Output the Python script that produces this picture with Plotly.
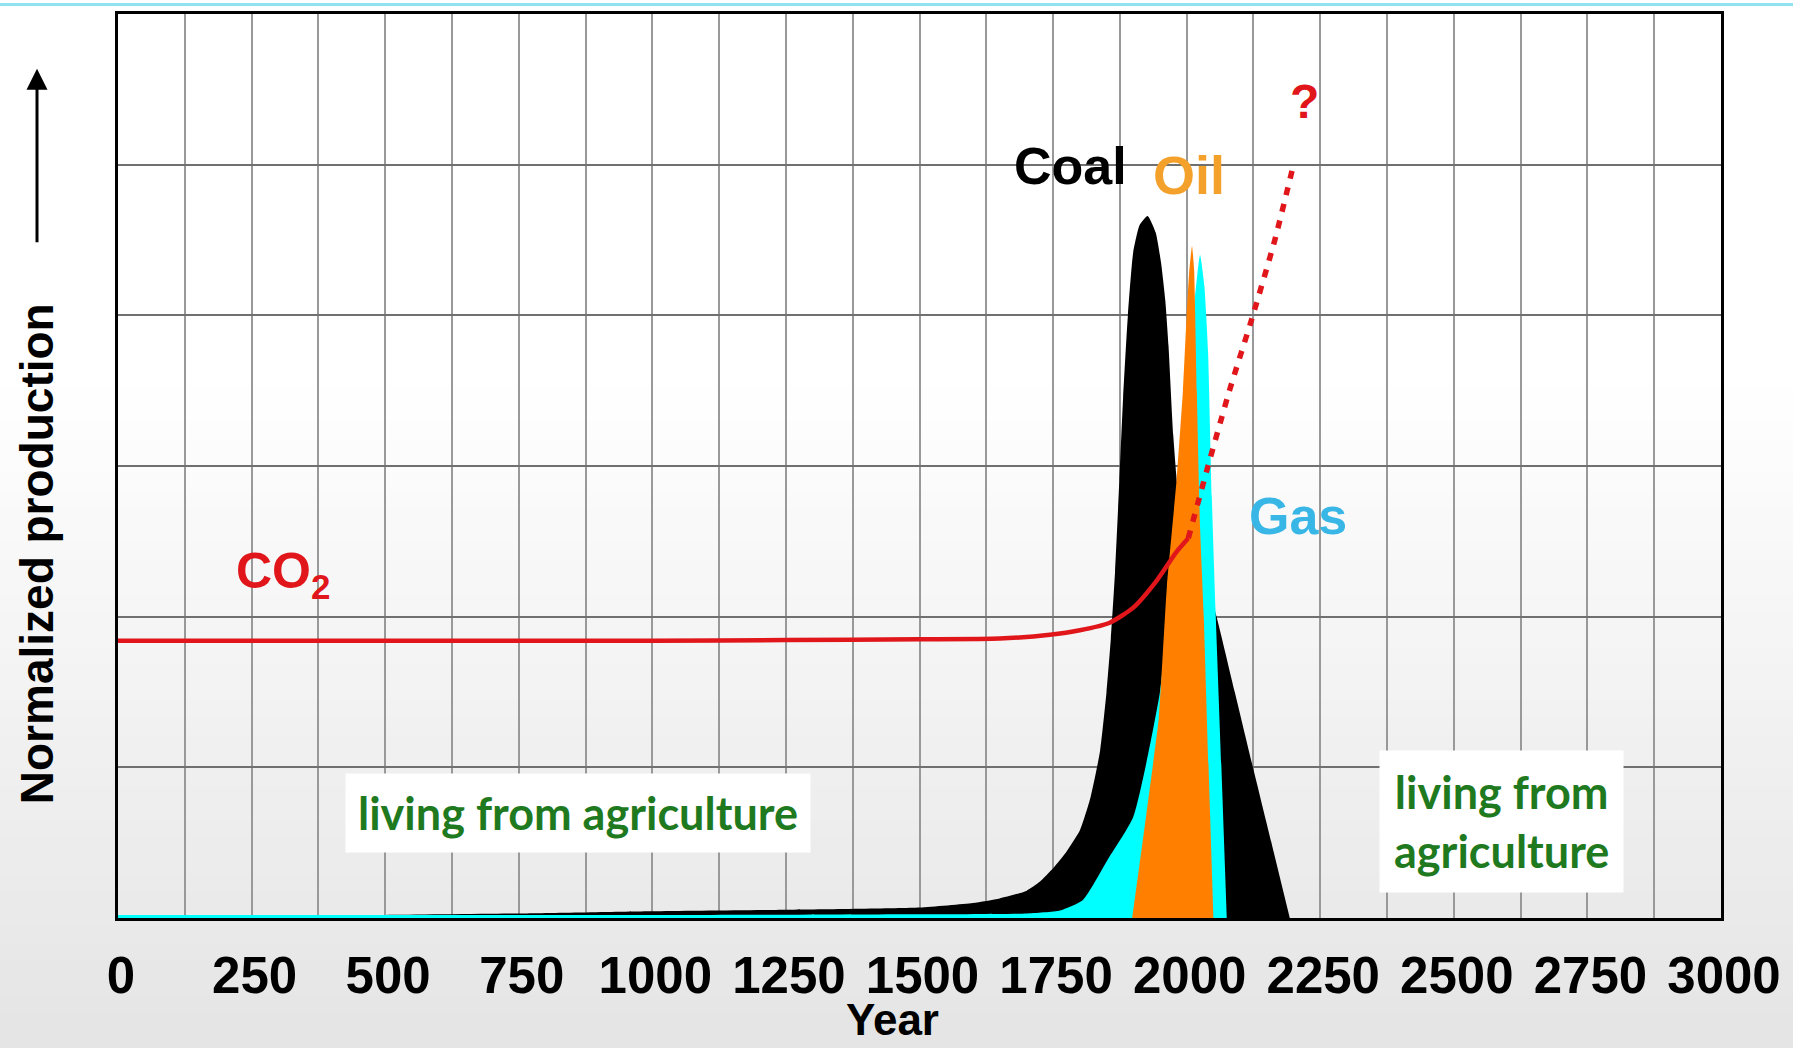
import plotly.graph_objects as go

# ---------------- data ----------------
coal_years = [0, 250, 500, 750, 1000, 1250, 1500, 1600, 1650, 1700, 1725, 1750, 1775, 1800,
              1820, 1838, 1850, 1858, 1866, 1874, 1881, 1890, 1900, 1912, 1927, 1942, 1952,
              1960, 1966, 1975, 1985, 2010, 2035, 2056, 2090, 2124, 2160, 2193]
coal_vals = [0.0, 0.01, 0.02, 0.03, 0.045, 0.055, 0.07, 0.1, 0.13, 0.18, 0.24, 0.33, 0.44, 0.58,
             0.8, 1.11, 1.5, 1.85, 2.3, 2.9, 3.45, 4.0, 4.42, 4.6, 4.66, 4.55, 4.35,
             4.1, 3.8, 3.2, 2.8, 2.5, 2.25, 2.0, 1.5, 1.0, 0.48, 0.0]

gas_years = [0, 500, 1000, 1500, 1700, 1763, 1806, 1851, 1900, 1950, 1980, 2000, 2015, 2025,
             2033, 2040, 2047, 2054, 2065, 2075]
gas_vals = [0.02, 0.02, 0.02, 0.025, 0.03, 0.05, 0.12, 0.38, 0.67, 1.5, 2.6, 3.5, 4.1, 4.4,
            4.2, 3.76, 2.8, 2.05, 1.0, 0.0]

oil_years = [1898, 1925, 1948, 1963, 1981, 1993, 2000, 2005, 2010, 2014, 2019, 2025, 2032, 2041, 2050]
oil_vals = [0.0, 0.7, 1.33, 2.2, 2.9, 3.5, 4.0, 4.3, 4.46, 4.3, 3.5, 2.6, 2.0, 1.0, 0.0]

co2_years = [0, 250, 500, 750, 1000, 1250, 1500, 1650, 1744, 1800, 1856, 1900, 1944, 1981, 2003]
co2_vals = [1.84, 1.84, 1.84, 1.84, 1.84, 1.845, 1.85, 1.855, 1.88, 1.91, 1.96, 2.06, 2.24, 2.43, 2.52]

co2_proj_years = [2003, 2040, 2080, 2124, 2165, 2200]
co2_proj_vals = [2.52, 3.0, 3.5, 4.0, 4.5, 5.0]

x_tick_vals = [0, 250, 500, 750, 1000, 1250, 1500, 1750, 2000, 2250, 2500, 2750, 3000]
x_tick_text = [str(v) for v in x_tick_vals]

# ---------------- figure ----------------
W, H = 1793, 1048
ML, MR, MT, MB = 118, 72, 11, 130
PW, PH = W - ML - MR, H - MT - MB

fig = go.Figure()

fig.add_trace(go.Scatter(x=coal_years, y=coal_vals, mode="lines", fill="tozeroy",
                         line=dict(color="black", width=0, shape="spline", smoothing=0.5),
                         fillcolor="black", hoverinfo="skip", showlegend=False))
fig.add_trace(go.Scatter(x=gas_years, y=gas_vals, mode="lines", fill="tozeroy",
                         line=dict(color="#00FFFF", width=0, shape="spline", smoothing=0.5),
                         fillcolor="#00FFFF", hoverinfo="skip", showlegend=False))
fig.add_trace(go.Scatter(x=oil_years, y=oil_vals, mode="lines", fill="tozeroy",
                         line=dict(color="#FF8000", width=0, shape="spline", smoothing=0.4),
                         fillcolor="#FF8000", hoverinfo="skip", showlegend=False))
fig.add_trace(go.Scatter(x=co2_years, y=co2_vals, mode="lines",
                         line=dict(color="#E0161B", width=4.5, shape="spline", smoothing=0.6),
                         hoverinfo="skip", showlegend=False))
fig.add_trace(go.Scatter(x=co2_proj_years, y=co2_proj_vals, mode="lines",
                         line=dict(color="#E0161B", width=5.5, dash="8px,9px", shape="spline", smoothing=0.5),
                         hoverinfo="skip", showlegend=False))

# background gradient (page)
shapes = []
N = 60
top_c = (255, 255, 255)
bot_c = (228, 228, 228)
for i in range(N):
    f0 = i / N
    f1 = (i + 1) / N
    g = max(0.0, (f0 - 0.35) / 0.65)
    c = tuple(int(round(top_c[k] + (bot_c[k] - top_c[k]) * g)) for k in range(3))
    shapes.append(dict(type="rect", xref="paper", yref="paper", layer="below",
                       x0=-ML / PW, x1=1 + MR / PW,
                       y1=1 + MT / PH - f0 * H / PH,
                       y0=1 + MT / PH - f1 * H / PH - 0.002,
                       line=dict(width=0), fillcolor="rgb(%d,%d,%d)" % c))
# top cyan strip
shapes.append(dict(type="line", xref="paper", yref="paper", layer="above",
                   x0=-ML / PW, x1=1 + MR / PW,
                   y0=1 + (MT - 1.5) / PH, y1=1 + (MT - 1.5) / PH,
                   line=dict(width=3, color="#8FE3F0")))

axis_font = dict(family="Liberation Sans, Arial, sans-serif", size=51, color="black", weight="bold")
green_font = dict(family="Lato, Open Sans, sans-serif", size=45, color="#1F7A1F", weight="bold")

annotations = [
    dict(text="Coal", x=1783, y=4.99, xref="x", yref="y", showarrow=False,
         font=dict(family="Liberation Sans, Arial", size=52, color="black", weight="bold")),
    dict(text="Oil", x=2004, y=4.93, xref="x", yref="y", showarrow=False,
         font=dict(family="Liberation Sans, Arial", size=54, color="#F4A12B", weight="bold")),
    dict(text="Gas", x=2208, y=2.67, xref="x", yref="y", showarrow=False,
         font=dict(family="Liberation Sans, Arial", size=52, color="#38B6E6", weight="bold")),
    dict(text="CO<sub>2</sub>", x=218, y=2.28, xref="x", yref="y", xanchor="left", showarrow=False,
         font=dict(family="Liberation Sans, Arial", size=50, color="#E0161B", weight="bold")),
    dict(text="?", x=2221, y=5.42, xref="x", yref="y", showarrow=False,
         font=dict(family="Liberation Sans, Arial", size=48, color="#E0161B", weight="bold")),
    dict(text="living from agriculture", x=861, y=0.70, xref="x", yref="y", showarrow=False,
         bgcolor="white", borderpad=12, font=green_font),
    dict(text="living from<br>agriculture", x=2590, y=0.64, xref="x", yref="y", showarrow=False,
         bgcolor="white", borderpad=14, font=green_font),
    dict(text="Year", x=(892 - ML) / PW, y=(H - MB - 1020) / PH,
         xref="paper", yref="paper", xanchor="center", yanchor="middle", showarrow=False,
         font=dict(family="Liberation Sans, Arial", size=44, color="black", weight="bold")),
    dict(text="Normalized production", x=(37 - ML) / PW, y=(H - MB - 553) / PH,
         xref="paper", yref="paper", xanchor="center", yanchor="middle", showarrow=False, textangle=-90,
         font=dict(family="Liberation Sans, Arial", size=46, color="black", weight="bold")),
    dict(text="", x=(37 - ML) / PW, y=(H - MB - 66) / PH,
         xref="paper", yref="paper", showarrow=True, ax=0, ay=175,
         arrowhead=2, arrowsize=1.4, arrowwidth=3, arrowcolor="black"),
]

fig.update_layout(
    width=W, height=H,
    margin=dict(l=ML, r=MR, t=MT, b=MB, pad=0),
    paper_bgcolor="white",
    plot_bgcolor="rgba(0,0,0,0)",
    shapes=shapes,
    annotations=annotations,
    showlegend=False,
)

fig.update_xaxes(range=[0, 3000], tickvals=x_tick_vals, ticktext=x_tick_text,
                 showgrid=True, gridcolor="#999999", gridwidth=1.5,
                 minor=dict(dtick=125, showgrid=True, gridcolor="#999999", gridwidth=1.5),
                 showline=True, linecolor="black", linewidth=3, mirror=True,
                 ticks="", tickfont=axis_font, ticklabelstandoff=11, ticklabelshift=3,
                 zeroline=False)
fig.update_yaxes(range=[0, 6], dtick=1, showticklabels=False,
                 showgrid=True, gridcolor="#707070", gridwidth=1.5,
                 showline=True, linecolor="black", linewidth=3, mirror=True,
                 ticks="", zeroline=False)

fig.write_html("out.html", config={"displayModeBar": False},
               post_script="document.body.style.margin='0';document.body.style.overflow='hidden';")
